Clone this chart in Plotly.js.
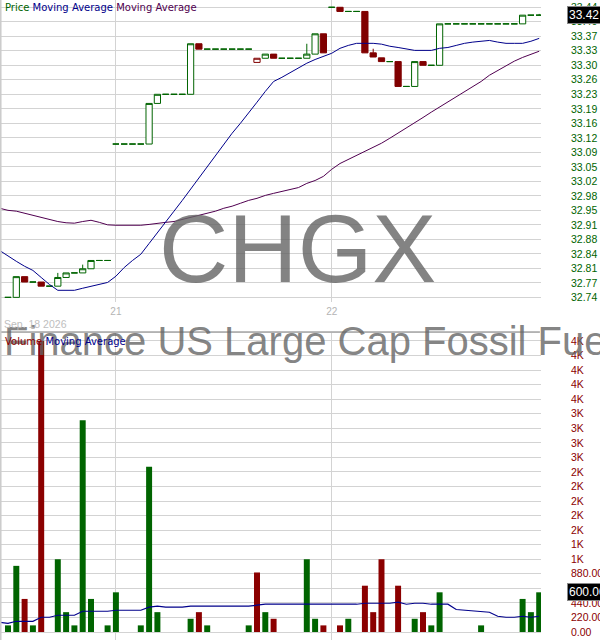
<!DOCTYPE html>
<html>
<head>
<meta charset="utf-8">
<script src="https://cdn.plot.ly/plotly-3.0.1.min.js"></script>
<style>
  html, body { margin: 0; padding: 0; background: #fff; overflow: hidden; }
  #chart { width: 600px; height: 640px; }
</style>
</head>
<body>
<div id="chart"></div>
<script>
// 15 minute bars, slot 0 = last bars of the 18th, 13 = open of the 21st, 39 = open of the 22nd
var open = [32.74, 32.74, 32.79, 32.777, 32.777, 32.767, 32.767, 32.788, 32.799, 32.799,
  32.809, 32.829, 32.829, 33.11, 33.11, 33.11, 33.11, 33.11, 33.208, 33.23,
  33.23, 33.23, 33.23, 33.352, 33.339, 33.339, 33.339, 33.339, 33.339, 33.339,
  33.307, 33.317, 33.327, 33.317, 33.317, 33.317, 33.317, 33.327, 33.376, 33.44,
  33.44, 33.43, 33.43, 33.43, 33.33, 33.318, 33.309, 33.309, 33.249, 33.249,
  33.309, 33.30, 33.30, 33.40, 33.40, 33.40, 33.40, 33.40, 33.40, 33.40,
  33.40, 33.40, 33.40, 33.421, 33.421];
var high = [32.74, 32.79, 32.79, 32.777, 32.777, 32.767, 32.799, 32.799, 32.799, 32.819,
  32.829, 32.829, 32.829, 33.11, 33.11, 33.11, 33.11, 33.208, 33.23, 33.23,
  33.23, 33.23, 33.352, 33.352, 33.339, 33.339, 33.339, 33.339, 33.339, 33.339,
  33.317, 33.327, 33.327, 33.317, 33.317, 33.317, 33.352, 33.376, 33.376, 33.44,
  33.44, 33.43, 33.43, 33.43, 33.34, 33.318, 33.309, 33.309, 33.249, 33.309,
  33.309, 33.30, 33.40, 33.40, 33.40, 33.40, 33.40, 33.40, 33.40, 33.40,
  33.40, 33.40, 33.421, 33.421, 33.424];
var low = [32.74, 32.74, 32.777, 32.777, 32.767, 32.767, 32.767, 32.788, 32.799, 32.799,
  32.809, 32.829, 32.829, 33.11, 33.11, 33.11, 33.11, 33.11, 33.208, 33.23,
  33.23, 33.23, 33.23, 33.339, 33.339, 33.339, 33.339, 33.339, 33.339, 33.339,
  33.307, 33.317, 33.317, 33.317, 33.317, 33.317, 33.317, 33.327, 33.33, 33.44,
  33.43, 33.43, 33.43, 33.33, 33.32, 33.309, 33.309, 33.249, 33.249, 33.249,
  33.30, 33.30, 33.30, 33.40, 33.40, 33.40, 33.40, 33.40, 33.40, 33.40,
  33.40, 33.40, 33.40, 33.421, 33.421];
var close = [32.74, 32.79, 32.777, 32.777, 32.767, 32.767, 32.788, 32.799, 32.799, 32.809,
  32.829, 32.829, 32.829, 33.11, 33.11, 33.11, 33.11, 33.208, 33.23, 33.23,
  33.23, 33.23, 33.352, 33.339, 33.339, 33.339, 33.339, 33.339, 33.339, 33.339,
  33.317, 33.327, 33.317, 33.317, 33.317, 33.317, 33.327, 33.376, 33.33, 33.44,
  33.43, 33.43, 33.43, 33.33, 33.32, 33.309, 33.309, 33.249, 33.249, 33.309,
  33.30, 33.30, 33.40, 33.40, 33.40, 33.40, 33.40, 33.40, 33.40, 33.40,
  33.40, 33.40, 33.421, 33.421, 33.421];
var volume = [100, 1000, 500, 100, 4400, 0, 1100, 300, 100, 3200,
  500, 0, 100, 600, 0, 0, 100, 2500, 300, 0,
  0, 0, 200, 300, 100, 0, 0, 0, 0, 100,
  900, 300, 200, 0, 0, 0, 1100, 200, 100, 0,
  100, 200, 0, 700, 300, 1100, 0, 700, 0, 200,
  300, 100, 600, 0, 0, 0, 0, 100, 0, 0,
  0, 0, 500, 300, 600];

// moving averages start one slot before the first bar
var maFast = [32.853, 32.839, 32.827, 32.815, 32.805, 32.788, 32.771, 32.757, 32.757, 32.757,
  32.762, 32.767, 32.771, 32.776, 32.791, 32.812, 32.829, 32.844, 32.870, 32.897,
  32.921, 32.948, 32.974, 33.001, 33.027, 33.054, 33.080, 33.107, 33.136, 33.160,
  33.187, 33.211, 33.237, 33.261, 33.271, 33.283, 33.293, 33.305, 33.314, 33.322,
  33.329, 33.341, 33.348, 33.353, 33.353, 33.353, 33.351, 33.346, 33.343, 33.339,
  33.336, 33.336, 33.336, 33.341, 33.343, 33.348, 33.353, 33.356, 33.358, 33.360,
  33.356, 33.353, 33.353, 33.353, 33.358, 33.365];
var maSlow = [32.955, 32.950, 32.948, 32.943, 32.938, 32.933, 32.928, 32.923, 32.920, 32.919,
  32.923, 32.926, 32.921, 32.915, 32.914, 32.914, 32.914, 32.914, 32.916, 32.919,
  32.921, 32.923, 32.928, 32.933, 32.938, 32.943, 32.948, 32.955, 32.960, 32.967,
  32.974, 32.979, 32.986, 32.991, 32.996, 33.001, 33.005, 33.015, 33.022, 33.032,
  33.049, 33.063, 33.073, 33.083, 33.092, 33.102, 33.112, 33.124, 33.136, 33.148,
  33.160, 33.174, 33.187, 33.199, 33.211, 33.225, 33.237, 33.249, 33.261, 33.276,
  33.288, 33.298, 33.310, 33.319, 33.327, 33.334];
var volMa = [147, 132, 162, 162, 162, 223, 223, 253, 253, 253,
  314, 314, 314, 314, 329, 329, 329, 329, 375, 390,
  375, 375, 375, 390, 390, 390, 390, 390, 390, 390,
  390, 405, 420, 420, 420, 420, 420, 420, 420, 420,
  420, 420, 420, 420, 435, 435, 435, 435, 450, 420,
  435, 435, 420, 420, 420, 340, 329, 314, 299, 299,
  238, 223, 223, 238, 223, 238];

var dayTicks = [13, 39];
var dayLabels = ['21', '22'];
var priceTicks = [33.44, 33.405, 33.37, 33.335, 33.30, 33.265, 33.23, 33.195, 33.16, 33.125,
  33.09, 33.055, 33.02, 32.985, 32.95, 32.915, 32.88, 32.845, 32.81, 32.775, 32.74];
var priceLabels = ['33.44', '33.40', '33.37', '33.33', '33.30', '33.26', '33.23', '33.19', '33.16', '33.12',
  '33.09', '33.05', '33.02', '32.98', '32.95', '32.91', '32.88', '32.84', '32.81', '32.77', '32.74'];
var volTicks = [0, 220, 440, 660, 880, 1100, 1320, 1540, 1760, 1980, 2200,
  2420, 2640, 2860, 3080, 3300, 3520, 3740, 3960, 4180, 4400];
var volLabels = ['0.00', '220.00', '440.00', '660.00', '880.00', '1K', '1K', '2K', '2K', '2K', '2K',
  '2K', '3K', '3K', '3K', '3K', '4K', '4K', '4K', '4K', '4K'];

var GREEN = '#006400', RED = '#800000', VRED = '#8b0000';
var BLUE = '#00008b', PURPLE = '#500050', GRID = '#d3d3d3';

var slots = [], maSlots = [];
for (var i = 0; i < close.length; i++) slots.push(i);
for (var j = -1; j < close.length; j++) maSlots.push(j);

function prevClose(i) { return i > 0 ? close[i - 1] : open[i]; }

// bars are hollow when they close up, filled when they close down,
// and coloured against the previous close
function group(test) {
  var g = {x: [], open: [], high: [], low: [], close: []};
  for (var i = 0; i < close.length; i++) {
    if (!test(open[i], close[i], prevClose(i))) continue;
    g.x.push(i); g.open.push(open[i]); g.high.push(high[i]);
    g.low.push(low[i]); g.close.push(close[i]);
  }
  return g;
}

function candles(g, color, fill) {
  var style = {line: {color: color, width: 1}, fillcolor: fill};
  return {
    type: 'candlestick', x: g.x, open: g.open, high: g.high, low: g.low, close: g.close,
    xaxis: 'x', yaxis: 'y', increasing: style, decreasing: style,
    whiskerwidth: 0, hoverinfo: 'skip', showlegend: false
  };
}

var volColors = volume.map(function (v, i) {
  return close[i] >= prevClose(i) ? GREEN : VRED;
});

var data = [
  candles(group(function (o, c) { return c === o; }), GREEN, GREEN),
  candles(group(function (o, c, p) { return c > o && c >= p; }), GREEN, '#ffffff'),
  candles(group(function (o, c, p) { return c > o && c < p; }), RED, '#ffffff'),
  candles(group(function (o, c) { return c < o; }), RED, RED),
  {type: 'scatter', mode: 'lines', x: maSlots, y: maSlow, xaxis: 'x', yaxis: 'y',
    line: {color: PURPLE, width: 1}, hoverinfo: 'skip', showlegend: false},
  {type: 'scatter', mode: 'lines', x: maSlots, y: maFast, xaxis: 'x', yaxis: 'y',
    line: {color: BLUE, width: 1}, hoverinfo: 'skip', showlegend: false},
  {type: 'bar', x: slots, y: volume, xaxis: 'x2', yaxis: 'y2',
    marker: {color: volColors, line: {width: 0}}, hoverinfo: 'skip', showlegend: false},
  {type: 'scatter', mode: 'lines', x: maSlots, y: volMa, xaxis: 'x2', yaxis: 'y2',
    line: {color: BLUE, width: 1.2}, hoverinfo: 'skip', showlegend: false}
];

var xRange = [-0.964, 64.217];

var layout = {
  width: 600, height: 640,
  margin: {l: 0, r: 59, t: 0, b: 0},
  paper_bgcolor: '#ffffff', plot_bgcolor: '#ffffff',
  font: {family: 'Liberation Sans, Arial, sans-serif'},
  showlegend: false,
  bargap: 0.28, boxgap: 0.25, boxgroupgap: 0,
  xaxis: {
    domain: [0, 1], range: xRange, anchor: 'y',
    tickvals: dayTicks, ticktext: dayLabels, ticks: '', ticklabelstandoff: 2,
    tickfont: {size: 10, color: '#b4b4b4'},
    showgrid: true, gridcolor: GRID, zeroline: false, showline: false,
    rangeslider: {visible: false}, fixedrange: true
  },
  xaxis2: {
    domain: [0, 1], range: xRange, anchor: 'y2',
    tickvals: dayTicks, showticklabels: false, ticks: '',
    showgrid: true, gridcolor: GRID, zeroline: false, showline: false, fixedrange: true
  },
  yaxis: {
    domain: [0.528, 1], range: [32.7286, 33.4576], side: 'right',
    tickvals: priceTicks, ticktext: priceLabels, ticks: '', ticklabelstandoff: 29,
    tickfont: {size: 10.5, color: GREEN},
    showgrid: true, gridcolor: GRID, zeroline: false, showline: false, fixedrange: true
  },
  yaxis2: {
    domain: [0, 0.4797], range: [-121, 4521], side: 'right',
    tickvals: volTicks, ticktext: volLabels, ticks: '', ticklabelstandoff: 29,
    tickfont: {size: 10.5, color: VRED},
    showgrid: true, gridcolor: GRID, zeroline: false, showline: false, fixedrange: true
  },
  shapes: [
    {type: 'line', xref: 'paper', yref: 'paper', x0: 0, x1: 0.998, y0: 0.4812, y1: 0.4812,
      line: {color: '#707070', width: 1}},
    {type: 'line', xref: 'paper', yref: 'paper', x0: 0.001, x1: 0.001, y0: 0, y1: 1,
      line: {color: '#cccccc', width: 2}}
  ],
  annotations: [
    {text: 'CHGX', xref: 'paper', yref: 'paper', x: 0.549, y: 0.611,
      xanchor: 'center', yanchor: 'middle', showarrow: false,
      font: {family: 'Liberation Sans', size: 96, color: 'rgba(100,100,100,0.8)'}},
    {text: 'Finance US Large Cap Fossil Fuel Free ETF', xref: 'paper', yref: 'paper',
      x: 0.004, y: 0.467, xanchor: 'left', yanchor: 'middle', showarrow: false,
      font: {family: 'Liberation Sans', size: 40, color: 'rgba(100,100,100,0.8)'}},
    {text: '<span style="color:' + GREEN + '">Price</span> <span style="color:' + BLUE +
      '">Moving Average</span> <span style="color:' + PURPLE + '">Moving Average</span>',
      xref: 'paper', yref: 'paper', x: 0.006, y: 0.989, xanchor: 'left', yanchor: 'middle',
      showarrow: false, font: {family: 'DejaVu Sans', size: 10}},
    {text: '<span style="color:' + VRED + '">Volume</span> <span style="color:' + BLUE +
      '">Moving Average</span>',
      xref: 'paper', yref: 'paper', x: 0.006, y: 0.467, xanchor: 'left', yanchor: 'middle',
      showarrow: false, font: {family: 'DejaVu Sans', size: 10}},
    {text: 'Sep. 18 2026', xref: 'paper', yref: 'paper', x: 0.003, y: 0.494,
      xanchor: 'left', yanchor: 'middle', showarrow: false,
      font: {family: 'Liberation Sans', size: 10.5, color: '#bebebe'}},
    {text: close[close.length - 1].toFixed(2), xref: 'paper', yref: 'y',
      x: 1.048, y: close[close.length - 1], xanchor: 'left', yanchor: 'middle',
      showarrow: false, bgcolor: '#000000', bordercolor: '#888888', borderwidth: 1, borderpad: 1,
      font: {family: 'Liberation Sans', size: 12, color: '#ffffff'}},
    {text: volume[volume.length - 1].toFixed(2), xref: 'paper', yref: 'y2',
      x: 1.048, y: volume[volume.length - 1], xanchor: 'left', yanchor: 'middle',
      showarrow: false, bgcolor: '#000000', bordercolor: '#888888', borderwidth: 1, borderpad: 1,
      font: {family: 'Liberation Sans', size: 12, color: '#ffffff'}}
  ]
};

Plotly.newPlot('chart', data, layout, {displayModeBar: false, staticPlot: true});
</script>
</body>
</html>
